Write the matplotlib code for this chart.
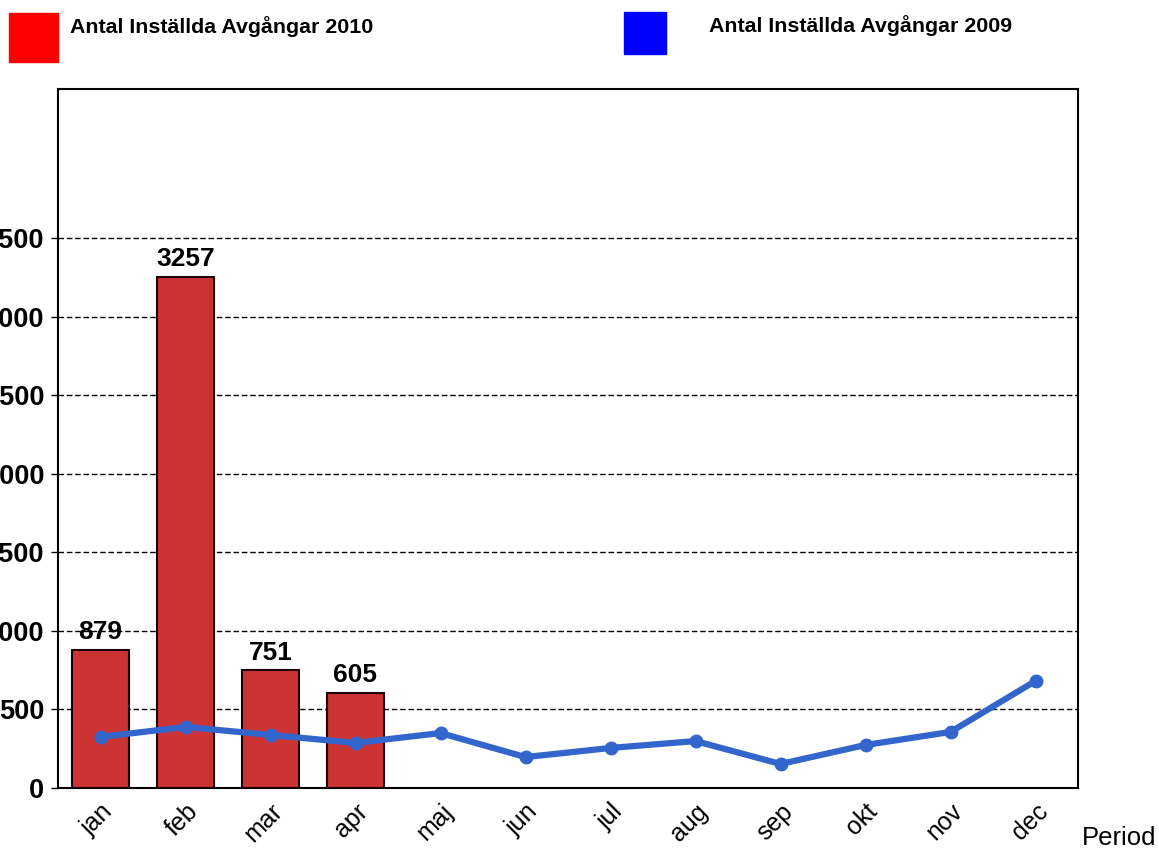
import matplotlib
matplotlib.use("Agg")
import matplotlib.pyplot as plt
from matplotlib.patches import Rectangle

plt.rcParams['font.family'] = ['Liberation Sans', 'DejaVu Sans']

months = ["jan", "feb", "mar", "apr", "maj", "jun", "jul", "aug", "sep", "okt", "nov", "dec"]
cancelled_2010 = [879, 3257, 751, 605]
cancelled_2009 = [325, 389, 338, 287, 350, 197, 255, 299, 153, 274, 357, 682]
yticks = [0, 500, 1000, 1500, 2000, 2500, 3000, 3500]
label_2010 = "Antal Inställda Avgångar 2010"
label_2009 = "Antal Inställda Avgångar 2009"

W, H = 1159, 848
fig = plt.figure(figsize=(W / 100, H / 100), dpi=100)
ax = fig.add_axes([58 / W, 1 - 788 / H, (1078 - 58) / W, (788 - 89) / H])

x = list(range(len(months)))
ax.bar(x[:len(cancelled_2010)], cancelled_2010, width=0.66, color="#CC3333",
       edgecolor="#1a0000", linewidth=1.5, zorder=3)
for xi, v in zip(x, cancelled_2010):
    ax.annotate(str(v), (xi, v), xytext=(0, 4), textcoords="offset points",
                ha="center", va="bottom", fontsize=19, fontweight="bold", zorder=5)

ax.plot(x, cancelled_2009, color="#3366CC", linewidth=4.5, marker="o",
        markersize=9, zorder=4)

ax.set_xlim(-0.5, 11.5)
ax.set_ylim(0, 4452)
ax.set_yticks(yticks)
ax.set_yticklabels([str(t) for t in yticks], fontsize=19.5, fontweight="bold")
ax.set_xticks(x)
ax.set_xticklabels(months, rotation=45, ha="right", rotation_mode="anchor", fontsize=18)
ax.tick_params(axis="y", length=5, width=1, pad=5)
ax.tick_params(axis="x", length=0, pad=8)
ax.grid(axis="y", linestyle=(0, (4, 2)), color="black", linewidth=1, zorder=1)
for s in ax.spines.values():
    s.set_linewidth(1.5)

fig.text(1082 / W, 1 - 838 / H, "Period", fontsize=18.5, va="center", ha="left")

# legend
fig.patches.append(Rectangle((9 / W, 1 - 62 / H), 49 / W, 49 / H, color="#FF0000",
                             transform=fig.transFigure, figure=fig))
fig.text(70 / W, 1 - 27 / H, label_2010, fontsize=15.4, fontweight="bold", va="center")
fig.patches.append(Rectangle((624 / W, 1 - 54 / H), 42 / W, 42 / H, color="#0000FF",
                             transform=fig.transFigure, figure=fig))
fig.text(709 / W, 1 - 26 / H, label_2009, fontsize=15.4, fontweight="bold", va="center")

fig.savefig("out.png", dpi=100)
